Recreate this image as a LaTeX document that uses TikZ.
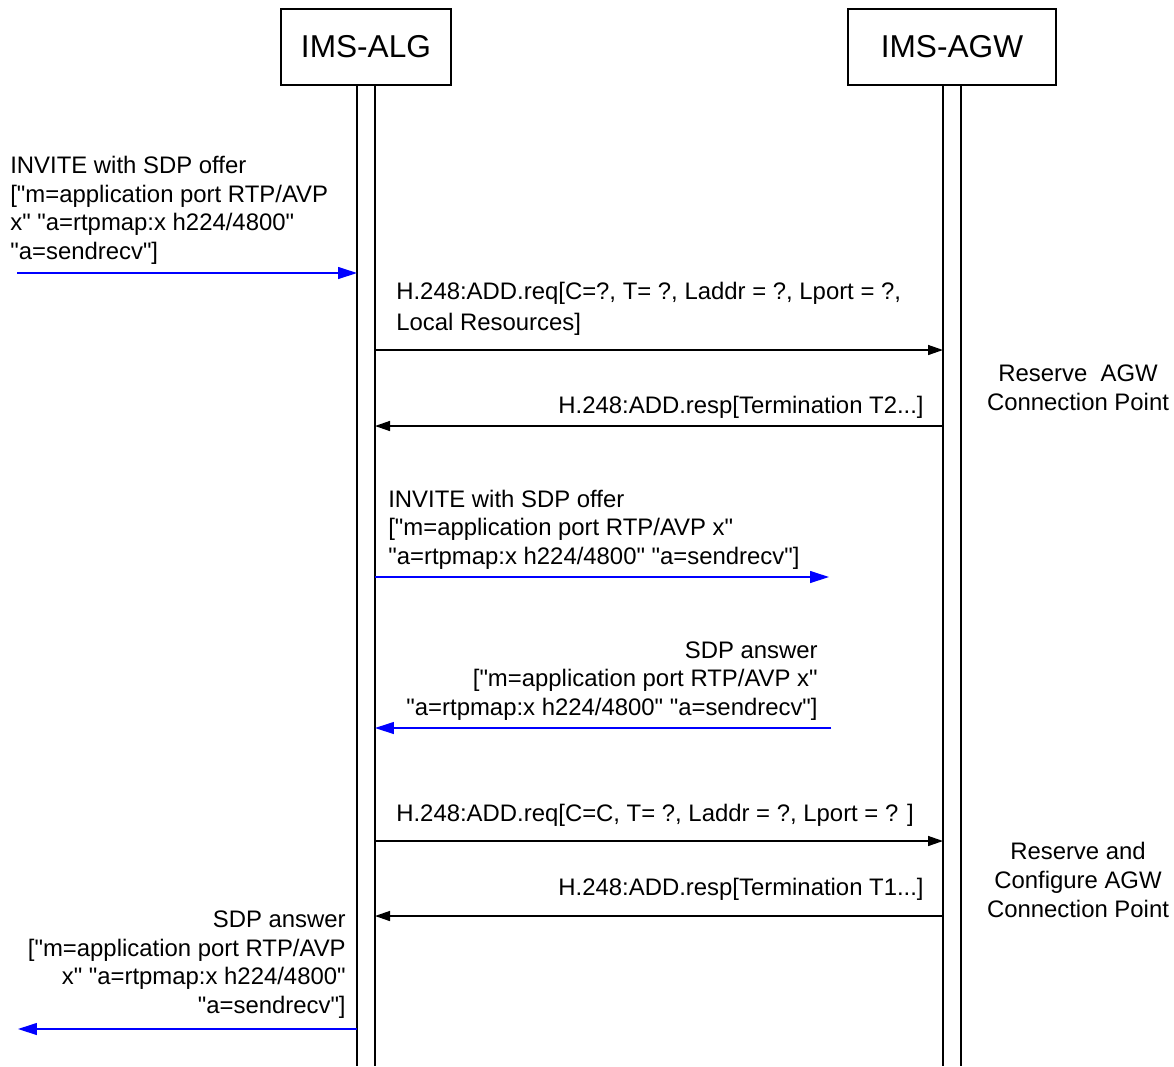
\documentclass[tikz,border=0pt]{standalone}
\usepackage{fontspec}
\setmainfont{Liberation Sans}[Ligatures=TeXOff]
\usetikzlibrary{arrows.meta}

\begin{document}
\begin{tikzpicture}[x=0.02cm, y=-0.02cm,
    ndEntity/.style={rectangle, draw={rgb,255:red,0;green,0;blue,0}, line width=0.8pt, minimum height=1.52cm, inner sep=0pt, font=\fontsize{18}{21}\selectfont},
    ndLabel/.style={inner sep=0pt, font=\fontsize{13.6}{16.4}\selectfont},
    lnLife/.style={draw={rgb,255:red,0;green,0;blue,0}, line width=0.8pt},
    lnCtrl/.style={draw={rgb,255:red,0;green,0;blue,0}, line width=0.8pt, -{Triangle[length=0.3cm, width=0.2cm]}},
    lnSip/.style={draw={rgb,255:red,0;green,0;blue,255}, fill={rgb,255:red,0;green,0;blue,255}, line width=0.7pt, -{Triangle[length=0.38cm, width=0.24cm]}}]

    \useasboundingbox (0,0) rectangle (1174,1066);
    
    \node[ndEntity, minimum width=3.4cm] (ndAlg) at (366,47) {IMS-ALG};
    \node[ndEntity, minimum width=4.16cm] (ndAgw) at (952,47) {IMS-AGW};
    
    \draw[lnLife] (357,85) -- (357,1066);
    \draw[lnLife] (375,85) -- (375,1066);
    \draw[lnLife] (943,85) -- (943,1066);
    \draw[lnLife] (961,85) -- (961,1066);
    
    \coordinate (cInvIn) at (17,273);
    \coordinate (cInvAlg) at (357,273);
    \coordinate (cReqAlg) at (375,350);
    \coordinate (cReqAgw) at (943,350);
    \coordinate (cRespAgw) at (943,426);
    \coordinate (cRespAlg) at (375,426);
    \coordinate (cInvOutAlg) at (375,577);
    \coordinate (cInvOut) at (829,577);
    \coordinate (cAnsIn) at (831,728);
    \coordinate (cAnsAlg) at (375,728);
    \coordinate (cReqTwoAlg) at (375,841);
    \coordinate (cReqTwoAgw) at (943,841);
    \coordinate (cRespTwoAgw) at (943,916);
    \coordinate (cRespTwoAlg) at (375,916);
    \coordinate (cAnsOutAlg) at (357,1029);
    \coordinate (cAnsOut) at (18,1029);
    
    \draw[lnSip] (cInvIn) -- (cInvAlg);
    \draw[lnCtrl] (cReqAlg) -- (cReqAgw);
    \draw[lnCtrl] (cRespAgw) -- (cRespAlg);
    \draw[lnSip] (cInvOutAlg) -- (cInvOut);
    \draw[lnSip] (cAnsIn) -- (cAnsAlg);
    \draw[lnCtrl] (cReqTwoAlg) -- (cReqTwoAgw);
    \draw[lnCtrl] (cRespTwoAgw) -- (cRespTwoAlg);
    \draw[lnSip] (cAnsOutAlg) -- (cAnsOut);
    
    \node[ndLabel, anchor=south west, align=left] (ndInvIn) at (10,265) {INVITE with SDP offer\\{[}"m=application port RTP/AVP\\x" "a=rtpmap:x h224/4800"\\"a=sendrecv"{]}};
    \node[ndLabel, anchor=south west, align=left, font=\fontsize{13.6}{17.6}\selectfont] (ndReq) at (396,336) {H.248:ADD.req{[}C=?, T= ?, Laddr = ?, Lport = ?,\\Local Resources{]}};
    \node[ndLabel, anchor=south east, align=right] (ndResp) at (924,419) {H.248:ADD.resp{[}Termination T2...{]}};
    \node[ndLabel, align=center] (ndReserve) at (1078,388) {Reserve~ AGW\\Connection Point};
    \node[ndLabel, anchor=south west, align=left] (ndInvOut) at (388,570) {INVITE with SDP offer\\{[}"m=application port RTP/AVP x"\\"a=rtpmap:x h224/4800" "a=sendrecv"{]}};
    \node[ndLabel, anchor=south east, align=right] (ndAnsIn) at (818,721) {SDP answer\\{[}"m=application port RTP/AVP x"\\"a=rtpmap:x h224/4800" "a=sendrecv"{]}};
    \node[ndLabel, anchor=south west, align=left] (ndReqTwo) at (396,827) {H.248:ADD.req{[}C=C, T= ?, Laddr = ?, Lport = ? {]}};
    \node[ndLabel, anchor=south east, align=right] (ndRespTwo) at (924,901) {H.248:ADD.resp{[}Termination T1...{]}};
    \node[ndLabel, align=center] (ndConfigure) at (1078,880) {Reserve and\\Configure AGW\\Connection Point};
    \node[ndLabel, anchor=south east, align=right] (ndAnsOut) at (346,1019) {SDP answer\\{[}"m=application port RTP/AVP\\x" "a=rtpmap:x h224/4800"\\"a=sendrecv"{]}};
\end{tikzpicture}
\end{document}
